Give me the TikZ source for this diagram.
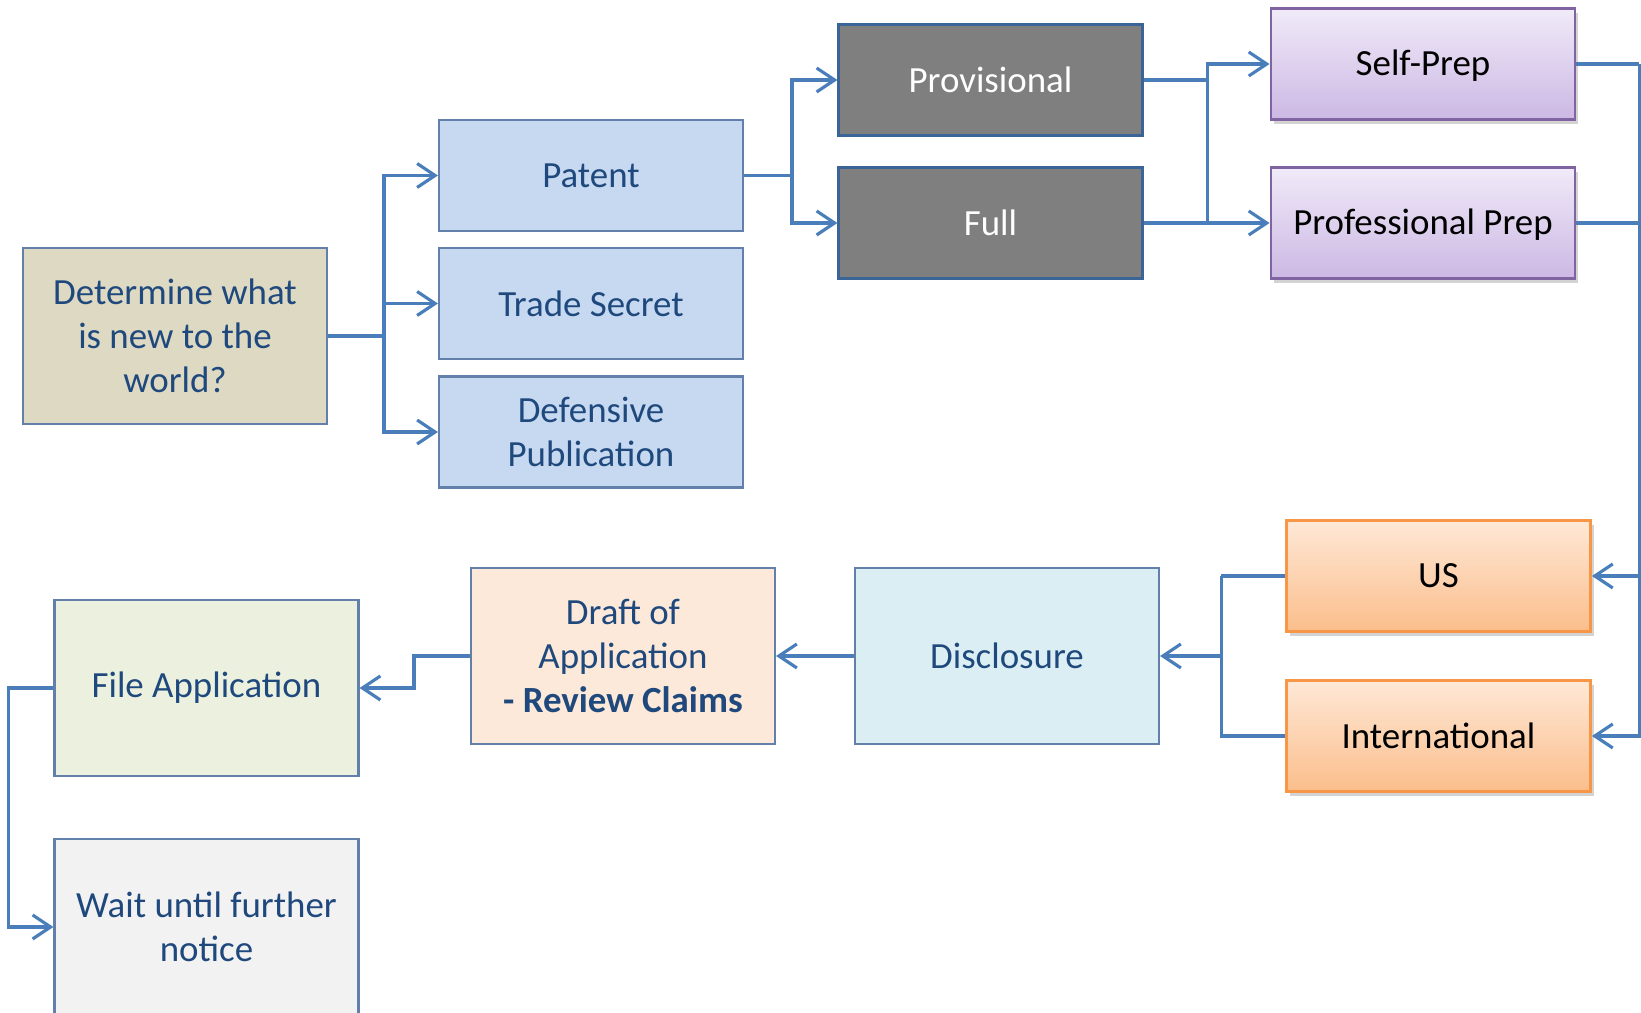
\documentclass[tikz,border=0pt]{standalone}
\usepackage{fontspec}
\setmainfont{Carlito}
\usepackage{tikz}
\usetikzlibrary{arrows.meta, positioning, calc, shadows}
\definecolor{myline}{RGB}{74,126,187}
\definecolor{myedge}{RGB}{98,128,170}
\definecolor{mytext}{RGB}{31,73,125}
\definecolor{hdrtan}{RGB}{221,217,195}
\definecolor{hdrblue}{RGB}{198,217,241}
\definecolor{hdrgray}{RGB}{127,127,127}
\definecolor{purpletop}{RGB}{240,234,248}
\definecolor{purplebot}{RGB}{204,184,228}
\definecolor{purpleedge}{RGB}{128,100,162}
\definecolor{orangetop}{RGB}{254,232,214}
\definecolor{orangebot}{RGB}{251,190,140}
\definecolor{orangeedge}{RGB}{247,150,70}
\definecolor{hdrcyan}{RGB}{219,238,244}
\definecolor{hdrpeach}{RGB}{253,233,217}
\definecolor{hdrgreen}{RGB}{235,241,222}
\definecolor{hdrlight}{RGB}{242,242,242}
\tikzset{
  box/.style={rectangle, draw=myedge, fill=hdrblue, text=mytext,
    minimum width=3.04cm, minimum height=1.11cm, align=center,
    font=\fontsize{10.5}{12.6}\selectfont, line width=0.6pt, inner sep=2pt},
  tallbox/.style={box, minimum height=1.76cm},
  darkbox/.style={box, fill=hdrgray, draw=myline!80!black, text=white},
  purplebox/.style={box, draw=purpleedge, top color=purpletop,
    bottom color=purplebot, text=black, line width=0.8pt,
    text height=0.66em, text depth=0pt,
    drop shadow={opacity=0.35, shadow xshift=0.03cm, shadow yshift=-0.05cm}},
  orangebox/.style={box, draw=orangeedge, top color=orangetop,
    bottom color=orangebot, text=black, line width=0.8pt,
    drop shadow={opacity=0.35, shadow xshift=0.03cm, shadow yshift=-0.05cm}},
  arrow/.style={-{Straight Barb[length=1.8mm, width=2.4mm]}, line width=0.9pt, color=myline},
  line/.style={line width=0.9pt, color=myline}
}
\begin{document}
\begin{tikzpicture}
  \useasboundingbox (0,0) rectangle (16.41,10.13);
  \clip (0,0) rectangle (16.41,10.13);

  % First row of choices
  \node[tallbox, fill=hdrtan] (det) at (1.75,6.77) {Determine what\\is new to the\\world?};
  \node[box] (patent) at (5.91,8.375) {Patent};
  \node[box] (trade) at (5.91,7.095) {Trade Secret};
  \node[box] (defpub) at (5.91,5.81) {Defensive\\Publication};

  % Patent types
  \node[darkbox] (prov) at (9.905,9.33) {Provisional};
  \node[darkbox] (full) at (9.905,7.90) {Full};

  % Preparation
  \node[purplebox] (self) at (14.23,9.49) {Self-Prep};
  \node[purplebox] (prof) at (14.23,7.90) {Professional Prep};

  % Where to file
  \node[orangebox] (us) at (14.385,4.37) {US};
  \node[orangebox] (intl) at (14.385,2.77) {International};

  % Bottom row
  \node[tallbox, fill=hdrcyan] (disc) at (10.07,3.57) {Disclosure};
  \node[tallbox, fill=hdrpeach] (draft) at (6.23,3.57) {Draft of\\Application\\\textbf{- Review Claims}};
  \node[tallbox, fill=hdrgreen] (file) at (2.065,3.25) {File Application};
  \node[tallbox, fill=hdrlight] (wait) at (2.065,0.86) {Wait until further\\notice};

  % Connectors
  \draw[line] (det.east) -- ++(0.56,0) coordinate (j1);
  \draw[arrow] (j1) |- (patent.west);
  \draw[arrow] (j1 |- trade.west) -- (trade.west);
  \draw[arrow] (j1) |- (defpub.west);

  \draw[line] (patent.east) -- ++(0.48,0) coordinate (j2);
  \draw[arrow] (j2) |- (prov.west);
  \draw[arrow] (j2) |- (full.west);

  \draw[line] (prov.east) -- ++(0.64,0) coordinate (j3);
  \draw[line] (full.east) -| (j3);
  \draw[arrow] (j3) |- (self.west);
  \draw[arrow] (full.east -| j3) -- (prof.west);

  \draw[line] (self.east) -- ++(0.63,0) coordinate (j4);
  \draw[line] (prof.east) -| (j4);
  \draw[arrow] (j4) |- (us.east);
  \draw[arrow] (j4) |- (intl.east);

  \draw[line] (us.west) -- ++(-0.64,0) coordinate (j5);
  \draw[line] (intl.west) -| (j5);
  \draw[arrow] (j5 |- disc.east) -- (disc.east);

  \draw[arrow] (disc.west) -- (draft.east);
  \draw[arrow] (draft.west) -- ++(-0.56,0) |- (file.east);
  \draw[arrow] (file.west) -- ++(-0.45,0) |- (wait.west);
\end{tikzpicture}
\end{document}
